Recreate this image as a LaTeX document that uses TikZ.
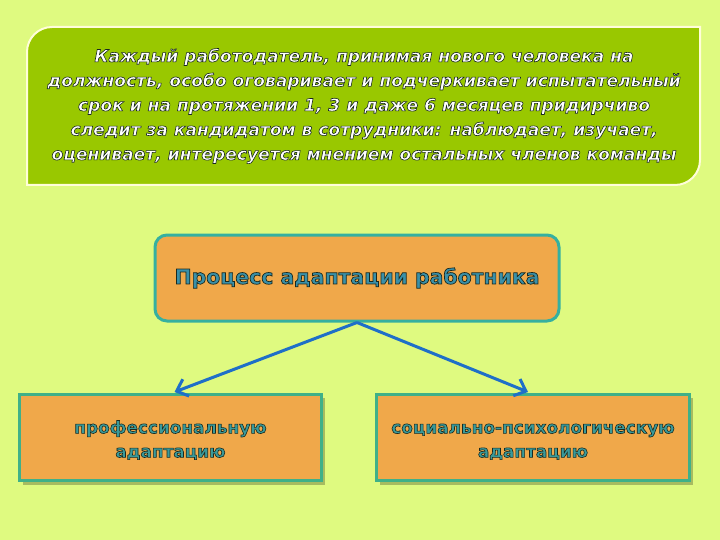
\documentclass[tikz,border=0pt]{standalone}
\usepackage{fontspec}
\setmainfont{DejaVu Sans}
\usetikzlibrary{arrows.meta}
\definecolor{bgc}{HTML}{DFFA80}
\definecolor{greenbox}{HTML}{99C800}
\definecolor{orangebox}{HTML}{F0A84A}
\definecolor{tealborder}{HTML}{35B0A0}
\definecolor{tealborder2}{HTML}{3FB088}
\definecolor{tealtext}{HTML}{3A90A8}
\definecolor{tealtext2}{HTML}{3A9A9A}
\definecolor{arrowblue}{HTML}{1F6FC8}
\newcommand{\outlon}[1]{\special{pdf:literal direct 2 Tr #1 w 0.10 0.16 0.12 RG}}
\newcommand{\outloff}{\special{pdf:literal direct 0 Tr}}
\tikzset{
  toptext/.style={font=\fontsize{17.1}{24.5}\selectfont\bfseries\itshape, text=white, align=center},
  midtext/.style={font=\fontsize{20.4}{26}\selectfont\bfseries, text=tealtext, align=center},
  subbox/.style={draw=tealborder2, line width=3pt, fill=orangebox, minimum height=86pt, align=center, text=tealtext2, font=\fontsize{16.9}{24}\selectfont\bfseries, inner sep=0pt},
  conn/.style={draw=arrowblue, line width=3pt, -{Straight Barb[length=10pt,width=18pt,line width=3pt]}}
}
\begin{document}
\begin{tikzpicture}[x=1pt,y=-1pt]
\fill[bgc] (0,0) rectangle (720,540);
\useasboundingbox (0,0) rectangle (720,540);
% top box
\draw[draw=white!85!yellow, line width=2pt, fill=greenbox]
  (27,52) arc[start angle=180,end angle=270,radius=25] -- (700,27) -- (700,160)
  arc[start angle=0,end angle=90,radius=25] -- (27,185) -- cycle;
\node[toptext] (txt) at (364,106) {\outlon{0.6}%
Каждый работодатель, принимая нового человека на\\
должность, особо оговаривает и подчеркивает испытательный\\
срок и на протяжении 1, 3 и даже 6 месяцев придирчиво\\
следит за кандидатом в сотрудники: наблюдает, изучает,\\
оценивает, интересуется мнением остальных членов команды\outloff};
% middle box
\node[draw=tealborder, line width=3pt, fill=orangebox, rounded corners=12pt,
  minimum width=404pt, minimum height=86pt, midtext] (mid) at (357,278)
  {\outlon{0.7}Процесс адаптации работника\outloff};
% bottom boxes with shadows
\fill[black!25!bgc] (23,398) rectangle (325,485);
\fill[black!25!bgc] (380,398) rectangle (693,485);
\node[subbox, minimum width=302pt] (lb) at (170.5,437.5)
  {\raisebox{-3pt}[\height][\depth]{\begin{tabular}{@{}c@{}}\outlon{0.6}профессиональную\\адаптацию\outloff\end{tabular}}};
\node[subbox, minimum width=313pt] (rb) at (533,437.5)
  {\raisebox{-3pt}[\height][\depth]{\begin{tabular}{@{}c@{}}\outlon{0.6}социально-психологическую\\адаптацию\outloff\end{tabular}}};
% connectors
\draw[conn] (mid.south) -- ([xshift=4pt,yshift=1pt]lb.north);
\draw[conn] (mid.south) -- ([xshift=-5pt,yshift=1pt]rb.north);
\end{tikzpicture}
\end{document}
